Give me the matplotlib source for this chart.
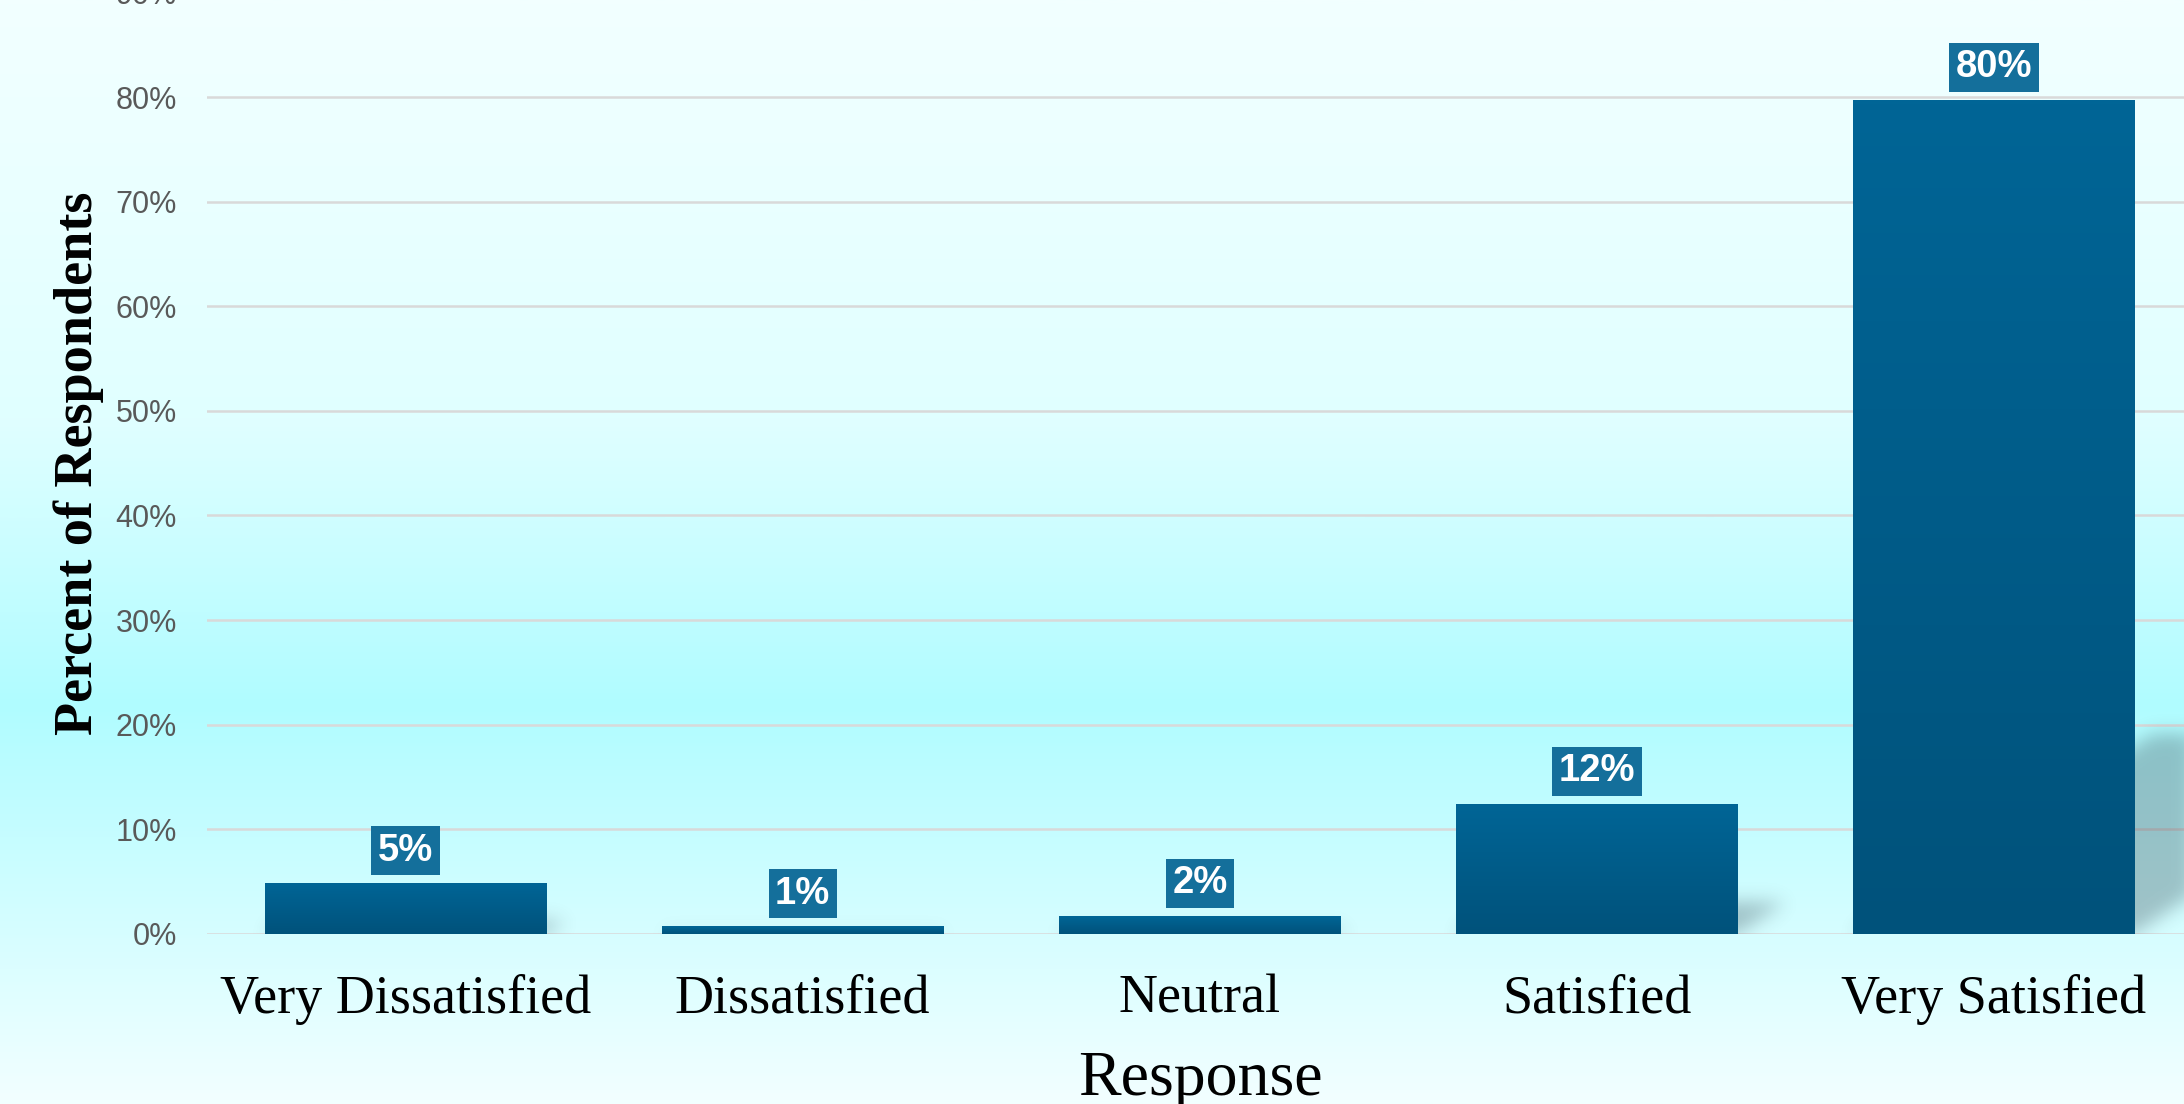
import matplotlib
matplotlib.use("Agg")
import matplotlib.pyplot as plt
import numpy as np
from matplotlib.colors import LinearSegmentedColormap

# survey data
categories = ["Very Dissatisfied", "Dissatisfied", "Neutral", "Satisfied", "Very Satisfied"]
percents = [4.8, 0.7, 1.7, 12.4, 79.7]
y_ticks = [0, 10, 20, 30, 40, 50, 60, 70, 80, 90]

values = np.array(percents) / 100
labels = [f"{round(p)}%" for p in percents]
bar_w = 0.71

fig = plt.figure(figsize=(21.84, 11.04), dpi=100)

## background gradient (light top/bottom, cyan around 64% down)
bg = fig.add_axes([0, 0, 1, 1], zorder=-5)
bg_cmap = LinearSegmentedColormap.from_list(
    "bg", [(0.0, "#f2ffff"), (0.36, "#b0fcff"), (0.62, "#e0ffff"), (1.0, "#f2ffff")])
bg.imshow(np.linspace(0, 1, 400).reshape(-1, 1), cmap=bg_cmap, aspect="auto",
          extent=[0, 1, 0, 1], origin="lower")
bg.axis("off")

ax = fig.add_axes([0.0948, 0.1540, 0.9091, 0.8529])
ax.set_facecolor("none")
ax.set_xlim(-0.5, 4.5)
ax.set_ylim(0, 0.9)

## soft perspective shadows behind the bars
nx, ny = 2000, 940
gx = np.linspace(-0.5, 4.5, nx)
gy = np.linspace(0, 0.9, ny)
X, Y = np.meshgrid(gx, gy)
k = 3.95  # skew: data-x per data-y
mask = np.zeros_like(X)
for i, v in enumerate(values):
    hs = 0.24 * v
    x0, x1 = i - bar_w / 2, i + bar_w / 2
    inside = (Y <= hs) & (X >= x0 + k * Y) & (X <= x1 + k * Y)
    mask[inside] = 1.0
sig = 9
kern = np.exp(-0.5 * (np.arange(-3 * sig, 3 * sig + 1) / sig) ** 2)
kern /= kern.sum()
mask = np.apply_along_axis(lambda r: np.convolve(r, kern, mode="same"), 1, mask)
mask = np.apply_along_axis(lambda c: np.convolve(c, kern, mode="same"), 0, mask)
shadow = np.zeros((ny, nx, 4))
shadow[..., 0] = 0.15
shadow[..., 1] = 0.22
shadow[..., 2] = 0.27
shadow[..., 3] = mask * 0.3
ax.imshow(shadow, extent=[-0.5, 4.5, 0, 0.9], origin="lower", aspect="auto", zorder=1)

## bars with vertical gradient
bar_cmap = LinearSegmentedColormap.from_list("bar", ["#00527b", "#006596"])
grad = np.linspace(0, 1, 200).reshape(-1, 1)
for i, v in enumerate(values):
    ax.imshow(grad, cmap=bar_cmap, extent=[i - bar_w / 2, i + bar_w / 2, 0, v],
              origin="lower", aspect="auto", zorder=2)
    ax.annotate(labels[i], (i, v), xytext=(0, 10.8), textcoords="offset points",
                ha="center", va="bottom", fontsize=27.5, fontweight="bold",
                family="Liberation Sans", color="white", zorder=4,
                bbox=dict(boxstyle="square,pad=0.17", fc="#146f9b", ec="none"))

ax.set_xlim(-0.5, 4.5)
ax.set_ylim(0, 0.9)

## axes, ticks, grid
ax.set_yticks(np.array(y_ticks) / 100)
ax.set_yticklabels([f"{t}%" for t in y_ticks], fontsize=22, color="#595959",
                   family="Liberation Sans")
ax.set_xticks(range(len(categories)))
ax.set_xticklabels(categories, fontsize=39, family="Liberation Serif")
ax.tick_params(axis="y", length=0, pad=21.6)
ax.tick_params(axis="x", length=0, pad=29)
ax.yaxis.grid(True, color="#d9d9d9", lw=1.8, zorder=0.5)
ax.set_axisbelow(True)
for s in ax.spines.values():
    s.set_visible(False)

fig.text(79 / 2184, 1 - 463 / 1104, "Percent of Respondents", rotation=90,
         ha="center", va="center", fontsize=39, fontweight="bold",
         family="Liberation Serif")
fig.text(1200 / 2184, 9 / 1104, "Response", ha="center", va="baseline",
         fontsize=46, family="Liberation Serif")

fig.savefig("out.png", dpi=100)
